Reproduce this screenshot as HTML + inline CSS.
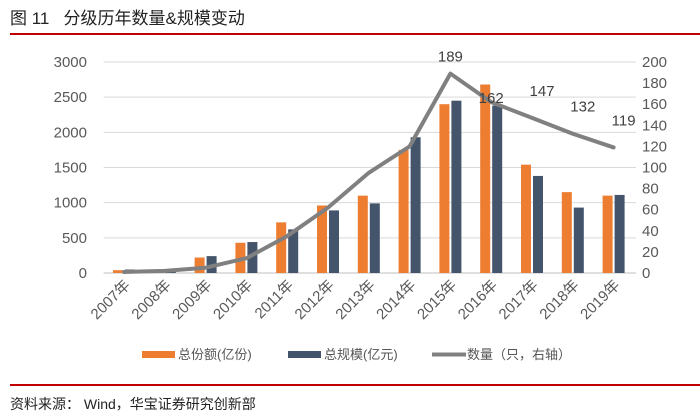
<!DOCTYPE html>
<html><head><meta charset="utf-8"><style>
body{margin:0;background:#fff;width:700px;height:417px;overflow:hidden;font-family:"Liberation Sans","Noto Sans CJK SC",sans-serif}
svg{position:absolute;left:0;top:0}
</style></head><body>
<svg width="700" height="417">
<text x="10" y="24" font-size="17" fill="#222" font-family="Liberation Sans,Noto Sans CJK SC,sans-serif">图 11 &#160; 分级历年数量&amp;规模变动</text>
<line x1="10" y1="34" x2="700" y2="34" stroke="#c00000" stroke-width="2"/>
<g id="grid"></g><g id="bars"></g><g id="line"></g><g id="axes"></g>
<g font-size="13" fill="#555">
<rect x="142" y="351" width="33" height="7" fill="#ed7d31"/>
<text x="178" y="359">总份额(亿份)</text>
<rect x="288" y="351" width="33" height="7" fill="#44546a"/>
<text x="324" y="359">总规模(亿元)</text>
<line x1="432" y1="354.5" x2="466" y2="354.5" stroke="#808080" stroke-width="4"/>
<text x="467" y="359">数量（只，右轴）</text>
</g>
<line x1="10" y1="385" x2="700" y2="385" stroke="#c00000" stroke-width="2"/>
<text x="10" y="409" font-size="14" fill="#222">资料来源： Wind，华宝证券研究创新部</text>
</svg>
<script>
const categories=["2007年","2008年","2009年","2010年","2011年","2012年","2013年","2014年","2015年","2016年","2017年","2018年","2019年"];
const shareValues=[40,35,220,430,720,960,1100,1750,2400,2680,1540,1150,1100];
const scaleValues=[50,20,240,440,620,890,990,1930,2450,2380,1380,930,1110];
const countValues=[1,2,5,14,35,62,95,120,189,162,147,132,119];
const countLabels=[null,null,null,null,null,null,null,null,"189","162","147","132","119"];
const leftTicks=[0,500,1000,1500,2000,2500,3000];
const rightTicks=[0,20,40,60,80,100,120,140,160,180,200];
const NS="http://www.w3.org/2000/svg";
const X0=103.6,X1=634,Y0=273,Y1=62,step=(X1-X0)/categories.length;
const xc=i=>X0+step*(i+0.5);
const yL=v=>Y0-(v/3000)*(Y0-Y1);
const yR=v=>Y0-(v/200)*(Y0-Y1);
function mk(tag,attrs,parent){const e=document.createElementNS(NS,tag);for(const k in attrs)e.setAttribute(k,attrs[k]);document.getElementById(parent).appendChild(e);return e;}
leftTicks.forEach(t=>{
  const g=mk("line",{x1:X0,x2:X1+2,y1:yL(t),y2:yL(t),stroke:t===0?"#bfbfbf":"#d9d9d9","stroke-width":1},"grid");
  
  
  const tx=mk("text",{x:87,y:yL(t)+5,"text-anchor":"end","font-size":15,fill:"#595959"},"axes");
  tx.textContent=t;
  
  
});
rightTicks.forEach(t=>{
  const tx=mk("text",{x:642,y:yR(t)+5,"font-size":15,fill:"#595959"},"axes");
  tx.textContent=t;
  
  
});
categories.forEach((c,i)=>{
  const b1=mk("rect",{x:xc(i)-11,y:yL(shareValues[i]),width:10,height:Y0-yL(shareValues[i]),fill:"#ed7d31"},"bars");
  
  
  const b2=mk("rect",{x:xc(i)+1,y:yL(scaleValues[i]),width:10,height:Y0-yL(scaleValues[i]),fill:"#44546a"},"bars");
  
  
  const tx=mk("text",{x:0,y:0,"text-anchor":"end","font-size":15,fill:"#595959",transform:`translate(${xc(i)+7},${Y0+13}) rotate(-45)`},"axes");
  tx.textContent=c;
  
  
});
const pts=countValues.map((v,i)=>xc(i)+","+yR(v)).join(" ");
const pl=mk("polyline",{points:pts,fill:"none",stroke:"#808080","stroke-width":4,"stroke-linejoin":"round","stroke-linecap":"round"},"line");


countLabels.forEach((l,i)=>{if(!l)return;
  const dx=i===8?0:(i===9?0:10);
  const tx=mk("text",{x:xc(i)+dx,y:yR(countValues[i])-(i===8?12:i===9?-1:22),"text-anchor":"middle","font-size":15,fill:"#404040"},"line");
  tx.textContent=l;
  
  
});
</script>
</body></html>
